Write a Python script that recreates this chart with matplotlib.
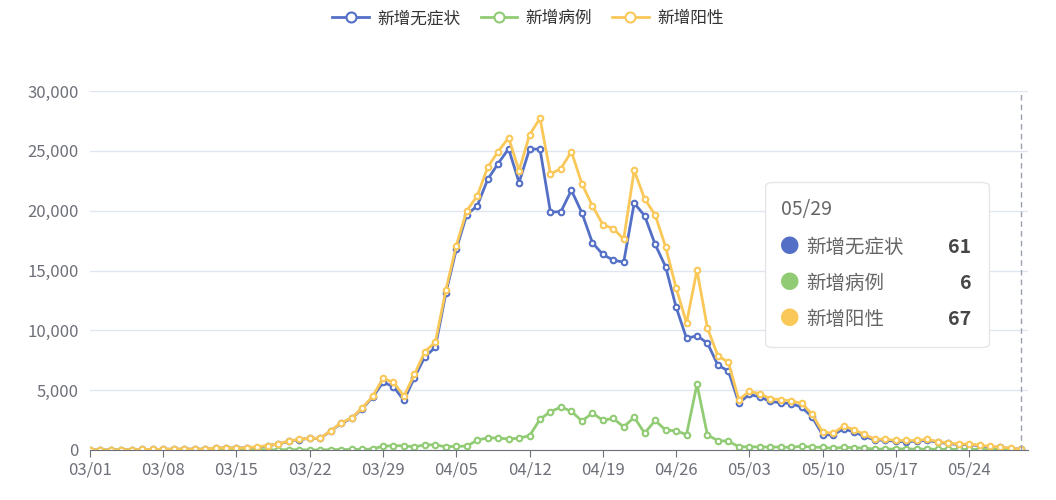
import matplotlib
matplotlib.use("Agg")
import matplotlib.pyplot as plt
from matplotlib.patches import FancyBboxPatch
import datetime as dt

plt.rcParams['font.family'] = ['Noto Sans CJK SC', 'DejaVu Sans']

start = dt.date(2022, 3, 1)
dates = [(start + dt.timedelta(days=i)).strftime("%m/%d") for i in range(90)]

positive = [3,8,5,19,28,45,51,62,76,75,83,65,169,202,157,203,260,374,509,758,896,981,983,1609,2269,2678,3500,4477,5982,5653,4502,
            6311,8226,9006,13354,17077,19989,21222,23624,24944,26087,23346,26330,27719,23073,23513,24943,22248,20417,18839,18495,17629,23370,20972,19657,16983,13562,10622,15032,10181,7872,
            7333,4200,4900,4700,4300,4200,4100,3900,3000,1500,1400,2000,1700,1300,900,900,800,800,800,900,700,600,500,500,400,300,250,150,67]
cases = [1,2,3,2,3,3,3,4,4,11,5,1,41,5,8,8,57,8,17,24,24,4,4,29,38,45,50,85,326,355,358,
         260,438,425,268,311,322,824,1015,1006,914,994,1189,2573,3200,3590,3238,2417,3084,2494,2634,1931,2736,1401,2472,1661,1606,1292,5487,1249,788,
         727,274,260,261,245,253,215,322,234,228,144,227,194,166,69,77,82,96,65,84,52,55,45,48,44,45,39,29,6]
asymptomatic = [2,6,2,17,25,42,48,58,72,64,78,64,128,197,149,195,203,366,492,734,872,977,979,1580,2231,2633,3450,4392,5656,5298,4144,
                6051,7788,8581,13086,16766,19667,20398,22609,23938,25173,22352,25141,25146,19873,19923,21705,19831,17333,16345,15861,15698,20634,19571,17185,15322,11956,9330,9545,8932,7084,
                6606,3926,4640,4439,4055,3947,3885,3578,2766,1272,1256,1773,1506,1134,831,823,718,704,735,816,648,545,455,452,356,255,211,121,61]

series = [("新增无症状", asymptomatic, "#5470c6"), ("新增病例", cases, "#91cc75"), ("新增阳性", positive, "#fac858")]

fig = plt.figure(figsize=(10.56, 5.0), dpi=100)
ax = fig.add_axes([0.0852, 0.1, 0.888, 0.718])
x = list(range(len(dates)))
for name, vals, col in series:
    ax.plot(x, vals, color=col, lw=2, marker='o', ms=4, mfc='white', mec=col, mew=1.5, label=name)

ax.set_xlim(0, 89.6)
ax.set_ylim(0, 30000)
ax.set_yticks(range(0, 30001, 5000))
ax.set_yticklabels([f"{v:,}" for v in range(0, 30001, 5000)], color="#6e7079", fontsize=12)
ax.set_xticks(x[::7])
ax.set_xticklabels(dates[::7], color="#6e7079", fontsize=12)
ax.grid(axis='y', color="#e0e6f1", lw=1)
ax.set_axisbelow(True)
for s in ['top', 'right', 'left']:
    ax.spines[s].set_visible(False)
ax.spines['bottom'].set_color("#6e7079")
ax.tick_params(axis='y', length=0, pad=8)
ax.tick_params(axis='x', color="#6e7079", length=5)
ax.axvline(89, color="#9aa0b0", ls=(0, (4, 3)), lw=1)

leg = fig.legend(loc='upper center', ncol=3, frameon=False, fontsize=12, bbox_to_anchor=(0.5, 1.01),
                 handlelength=2.2, columnspacing=1.2, handletextpad=0.5, markerscale=1.8)
for t in leg.get_texts():
    t.set_color("#333333")

# tooltip
box = FancyBboxPatch((0.725, 0.305), 0.212, 0.33, transform=fig.transFigure, boxstyle="round,pad=0,rounding_size=0.008",
                     fc="white", ec="#e6e6e6", lw=1, zorder=10)
fig.patches.append(box)
fig.text(0.74, 0.58, "05/29", fontsize=14, color="#666666", va='center', zorder=11)
rows = [("新增无症状", "61", "#5470c6"), ("新增病例", "6", "#91cc75"), ("新增阳性", "67", "#fac858")]
for i, (n, v, c) in enumerate(rows):
    yy = 0.505 - i * 0.072
    fig.text(0.748, yy, "●", color=c, fontsize=14, va='center', ha='center', zorder=11)
    fig.text(0.763, yy, n, color="#666666", fontsize=14, va='center', zorder=11)
    fig.text(0.92, yy, v, color="#464646", fontsize=14, va='center', ha='right', fontweight='bold', zorder=11)

fig.savefig("out.png")
